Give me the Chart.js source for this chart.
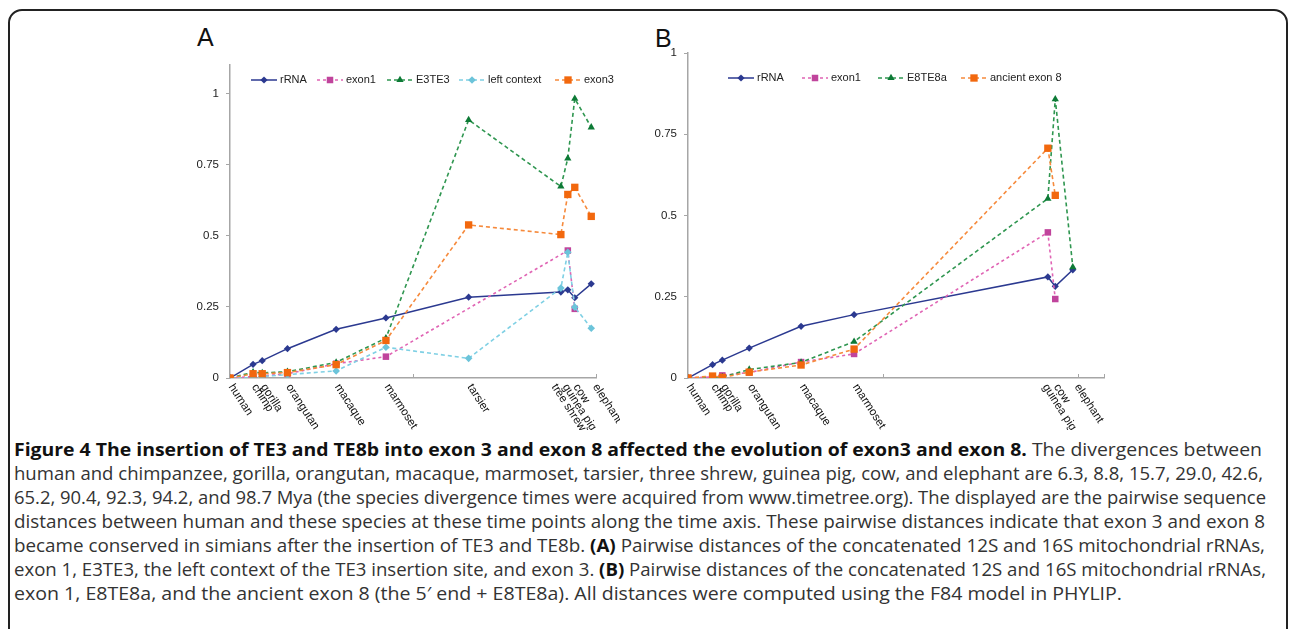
<!DOCTYPE html>
<html>
<head>
<meta charset="utf-8">
<script src="https://cdn.jsdelivr.net/npm/chart.js@4.4.1/dist/chart.umd.min.js"></script>
<style>
  html, body { margin: 0; padding: 0; background: #fff; }
  #page { position: relative; width: 1290px; height: 629px; overflow: hidden; background: #fff; }
  #frame { position: absolute; left: 8px; top: 9px; width: 1280px; height: 640px;
           border: 2px solid #222; border-radius: 14px; box-sizing: border-box; }
  .panel { position: absolute; font-family: "Liberation Sans", Arial, sans-serif; font-size: 25px;
           line-height: 25px; color: #111; }
  canvas { position: absolute; }
  .cap { position: absolute; left: 14px; white-space: nowrap; font-family: "Open Sans", sans-serif;
         font-size: 17.5px; line-height: 24px; color: #333; transform-origin: 0 50%; }
  .cap b { color: #111; }
</style>
</head>
<body>
<div id="page">
  <div id="frame"></div>
  <div class="panel" style="left:197px; top:25px;">A</div>
  <div class="panel" style="left:655px; top:26px;">B</div>
  <canvas id="chartA" width="470" height="390" style="left:150px; top:40px;"></canvas>
  <canvas id="chartB" width="510" height="400" style="left:610px; top:30px;"></canvas>

  <div class="cap" style="top:437px"><b>Figure 4 The insertion of TE3 and TE8b into exon 3 and exon 8 affected the evolution of exon3 and exon 8.</b> The divergences between</div>
  <div class="cap" style="top:461px">human and chimpanzee, gorilla, orangutan, macaque, marmoset, tarsier, three shrew, guinea pig, cow, and elephant are 6.3, 8.8, 15.7, 29.0, 42.6,</div>
  <div class="cap" style="top:485px">65.2, 90.4, 92.3, 94.2, and 98.7 Mya (the species divergence times were acquired from www.timetree.org). The displayed are the pairwise sequence</div>
  <div class="cap" style="top:509px">distances between human and these species at these time points along the time axis. These pairwise distances indicate that exon 3 and exon 8</div>
  <div class="cap" style="top:533px">became conserved in simians after the insertion of TE3 and TE8b. <b>(A)</b> Pairwise distances of the concatenated 12S and 16S mitochondrial rRNAs,</div>
  <div class="cap" style="top:557px">exon 1, E3TE3, the left context of the TE3 insertion site, and exon 3. <b>(B)</b> Pairwise distances of the concatenated 12S and 16S mitochondrial rRNAs,</div>
  <div class="cap" style="top:581px">exon 1, E8TE8a, and the ancient exon 8 (the 5&#8242; end + E8TE8a). All distances were computed using the F84 model in PHYLIP.</div>
</div>

<script>
// ---- data (divergence time from human, Mya; pairwise distances) ----
const speciesA = ["human", "chimp", "gorilla", "orangutan", "macaque", "marmoset", "tarsier", "tree shrew", "guinea pig", "cow", "elephant"];
const myaA = [0, 6.3, 8.8, 15.7, 29.0, 42.6, 65.2, 90.4, 92.3, 94.2, 98.7];
const rrnaA = [0, 0.048, 0.061, 0.103, 0.171, 0.211, 0.284, 0.302, 0.310, 0.282, 0.331];
const exon1A = [0, 0.005, 0.007, 0.015, 0.050, 0.075, null, null, 0.448, 0.243, null];
const e3te3A = [0, 0.020, 0.018, 0.022, 0.055, 0.140, 0.907, 0.673, 0.772, 0.982, 0.881];
const leftCtxA = [0, 0, 0.005, 0.012, 0.025, 0.108, 0.069, 0.316, 0.442, 0.249, 0.175];
const exon3A = [0, 0.015, 0.015, 0.019, 0.047, 0.132, 0.538, 0.504, 0.645, 0.670, 0.568];

const speciesB = ["human", "chimp", "gorilla", "orangutan", "macaque", "marmoset", "guinea pig", "cow", "elephant"];
const myaB = [0, 6.3, 8.8, 15.7, 29.0, 42.6, 92.3, 94.2, 98.7];
const rrnaB = [0, 0.041, 0.055, 0.092, 0.159, 0.195, 0.311, 0.282, 0.333];
const exon1B = [0, 0.003, 0.008, 0.017, 0.049, 0.074, 0.448, 0.243, null];
const e8te8aB = [0, 0, 0.003, 0.026, 0.048, 0.112, 0.552, 0.858, 0.341];
const ancientB = [0, 0.006, 0.002, 0.018, 0.040, 0.089, 0.707, 0.562, null];

const yTicksA = [0, 0.25, 0.5, 0.75, 1];
const yTicksB = [0, 0.25, 0.5, 0.75, 1];

// ---- styles ----
const FONT = '"Liberation Sans", Arial, sans-serif';
const AXIS = "#a6a6a6";
const st = {
  rrna:    { line: "#2b3990", point: "#2b3990", style: "rectRot", r: 3.6, dash: [] },
  exon1:   { line: "#e064b4", point: "#c0449c", style: "rect", r: 4.6, dash: [3, 3] },
  green:   { line: "#2f9650", point: "#0d7a36", style: "triangle", r: 4.2, dash: [4, 3] },
  left:    { line: "#7fd0e4", point: "#6cc4da", style: "rectRot", r: 3.8, dash: [4, 3] },
  orange:  { line: "#f68a3c", point: "#f2680e", style: "rect", r: 5.2, dash: [4, 3] }
};

// label nudges where the original places crowded names apart
const labelShift = { "tree shrew": -8, "guinea pig": -4, "elephant": 3 };

function series(label, xs, ys, s, order) {
  return {
    label: label,
    data: xs.map((x, i) => ({ x: x, y: ys[i] })),
    borderColor: s.line,
    borderWidth: s.dash.length ? 1.6 : 1.5,
    borderDash: s.dash,
    pointStyle: s.style,
    pointRadius: s.r,
    pointBackgroundColor: s.point,
    pointBorderColor: s.point,
    pointBorderWidth: 0,
    tension: 0,
    spanGaps: true,
    fill: false,
    order: order
  };
}

// legend drawn inside the plot like the original (line + marker + name)
const insideLegend = {
  id: "insideLegend",
  afterDatasetsDraw(chart, args, opts) {
    const ctx = chart.ctx;
    const left = chart.canvas.offsetLeft, top = chart.canvas.offsetTop;
    ctx.save();
    ctx.font = "11px " + FONT;
    ctx.textBaseline = "middle";
    ctx.textAlign = "left";
    chart.data.datasets.forEach((ds, i) => {
      const tx = opts.textX[i] - left;
      const y = opts.y - top;
      ctx.strokeStyle = ds.borderColor;
      ctx.lineWidth = ds.borderWidth;
      ctx.setLineDash(ds.borderDash || []);
      ctx.beginPath();
      ctx.moveTo(tx - 29, y);
      ctx.lineTo(tx - 3, y);
      ctx.stroke();
      ctx.setLineDash([]);
      ctx.fillStyle = ds.pointBackgroundColor;
      ctx.strokeStyle = ds.pointBackgroundColor;
      Chart.helpers.drawPoint(ctx, { pointStyle: ds.pointStyle, radius: ds.pointRadius, borderWidth: 0, rotation: 0 }, tx - 16, y);
      ctx.fillStyle = "#222";
      ctx.fillText(ds.label, tx, y);
    });
    ctx.restore();
  }
};

// species names under the time axis, slanted, plus inside tick marks
const speciesAxis = {
  id: "speciesAxis",
  afterDraw(chart, args, opts) {
    const ctx = chart.ctx;
    const xs = chart.scales.x;
    const y0 = xs.top;
    ctx.save();
    ctx.strokeStyle = AXIS;
    ctx.lineWidth = 1;
    opts.ticks.forEach(v => {
      const px = Math.round(xs.getPixelForValue(v)) + 0.5;
      ctx.beginPath();
      ctx.moveTo(px, y0);
      ctx.lineTo(px, y0 - 4);
      ctx.stroke();
    });
    ctx.font = "11.5px " + FONT;
    ctx.fillStyle = "#111";
    ctx.textAlign = "left";
    ctx.textBaseline = "middle";
    opts.names.forEach((name, i) => {
      const px = xs.getPixelForValue(opts.at[i]) + (labelShift[name] || 0);
      ctx.save();
      ctx.translate(px + 1, y0 + 7);
      ctx.rotate(57 * Math.PI / 180);
      ctx.fillText(name, 0, 0);
      ctx.restore();
    });
    ctx.restore();
  }
};

function makeChart(id, datasets, cfg) {
  return new Chart(document.getElementById(id), {
    type: "line",
    data: { datasets: datasets },
    plugins: [insideLegend, speciesAxis],
    options: {
      responsive: false,
      animation: false,
      devicePixelRatio: 1,
      layout: { padding: { top: cfg.padTop, right: cfg.padRight, left: 0, bottom: 0 } },
      plugins: {
        legend: { display: false },
        tooltip: { enabled: false },
        insideLegend: { textX: cfg.legendX, y: cfg.legendY },
        speciesAxis: { names: cfg.names, at: cfg.at, ticks: cfg.xTicks }
      },
      scales: {
        x: {
          type: "linear",
          min: 0,
          max: cfg.xMax,
          grid: { display: false },
          border: { display: true, color: AXIS, width: 1.5 },
          ticks: { display: false },
          afterFit: s => { s.height = cfg.xAxisH; }
        },
        y: {
          min: 0,
          max: cfg.yMax,
          afterBuildTicks: s => { s.ticks = cfg.yTicks.map(v => ({ value: v })); },
          grid: { display: true, drawOnChartArea: false, drawTicks: true, tickLength: 4, color: AXIS },
          border: { display: true, color: AXIS, width: 1.5 },
          ticks: { color: "#222", font: { family: FONT, size: 11.5 }, padding: 7, autoSkip: false,
                   callback: v => String(v) },
          afterFit: s => { s.width = cfg.yAxisW; }
        }
      }
    }
  });
}

// chart A canvas: page (150,40) 470x390 -> plot area x 230..596, y 65..378
makeChart("chartA", [
  series("rRNA", myaA, rrnaA, st.rrna, 5),
  series("exon1", myaA, exon1A, st.exon1, 4),
  series("E3TE3", myaA, e3te3A, st.green, 3),
  series("left context", myaA, leftCtxA, st.left, 2),
  series("exon3", myaA, exon3A, st.orange, 1)
], {
  padTop: 25, padRight: 24, xAxisH: 52, yAxisW: 80,
  xMax: 100, yMax: 1.1, yTicks: yTicksA, xTicks: [50, 100],
  names: speciesA, at: myaA,
  legendX: [280, 346, 416, 488, 584], legendY: 80
});

// chart B canvas: page (610,30) 510x400 -> plot area x 688..1104, y 53..378
makeChart("chartB", [
  series("rRNA", myaB, rrnaB, st.rrna, 4),
  series("exon1", myaB, exon1B, st.exon1, 3),
  series("E8TE8a", myaB, e8te8aB, st.green, 2),
  series("ancient exon 8", myaB, ancientB, st.orange, 1)
], {
  padTop: 23, padRight: 16, xAxisH: 52, yAxisW: 78,
  xMax: 106.7, yMax: 1, yTicks: yTicksB, xTicks: [50, 100, 106.7],
  names: speciesB, at: myaB,
  legendX: [757, 831, 907, 990], legendY: 78
});

// caption lines are fitted to the right edges measured on the original
const capEnds = [1262, 1263, 1266, 1265, 1265, 1266, 1122];
function fitCaption() {
  document.querySelectorAll(".cap").forEach((el, i) => {
    el.style.transform = "none";
    const k = (capEnds[i] - 14) / el.getBoundingClientRect().width;
    el.style.transform = "scaleX(" + k + ")";
  });
}
fitCaption();
if (document.fonts && document.fonts.ready) document.fonts.ready.then(fitCaption);
</script>
</body>
</html>
